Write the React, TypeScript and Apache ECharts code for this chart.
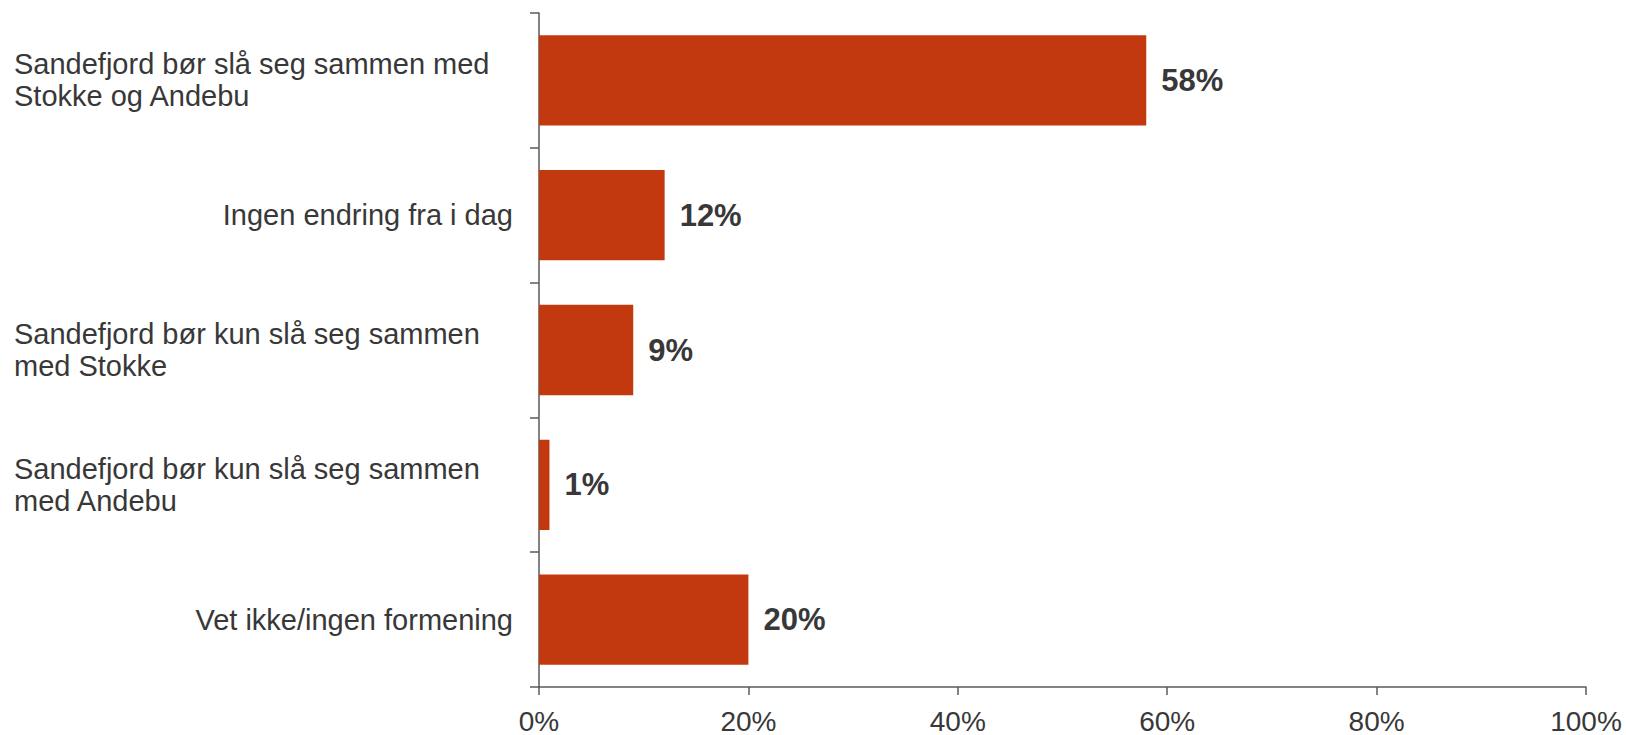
import React, { useEffect, useRef } from "react";
import * as echarts from "echarts";

const categories: string[][] = [
  ["Sandefjord bør slå seg sammen med", "Stokke og Andebu"],
  ["Ingen endring fra i dag"],
  ["Sandefjord bør kun slå seg sammen", "med Stokke"],
  ["Sandefjord bør kun slå seg sammen", "med Andebu"],
  ["Vet ikke/ingen formening"],
];
const values: number[] = [58, 12, 9, 1, 20];
const xTicks = { min: 0, max: 100, interval: 20 };

const FONT = "'Liberation Sans', Arial, sans-serif";
const TEXT = "#383838";
const AXIS = "#5a5a5a";
const BAR = "#C3390F";

export default function App() {
  const ref = useRef<HTMLDivElement>(null);
  useEffect(() => {
    document.body.style.margin = "0";
    if (!ref.current) return;
    const chart = echarts.init(ref.current, undefined, { renderer: "svg" });
    const catKeys = categories.map((c) => c.join("\n"));
    chart.setOption({
      animation: false,
      backgroundColor: "#ffffff",
      grid: { left: 539, right: 40, top: 13, bottom: 48, containLabel: false },
      xAxis: {
        type: "value",
        min: xTicks.min,
        max: xTicks.max,
        interval: xTicks.interval,
        axisLine: { show: true, lineStyle: { color: AXIS, width: 1.5 } },
        axisTick: { show: true, length: 8, lineStyle: { color: AXIS, width: 1.5 } },
        splitLine: { show: false },
        axisLabel: {
          formatter: "{value}%",
          fontSize: 28,
          fontFamily: FONT,
          color: TEXT,
          margin: 20,
        },
      },
      yAxis: {
        type: "category",
        inverse: true,
        data: catKeys,
        axisLine: { show: true, lineStyle: { color: AXIS, width: 1.5 } },
        axisTick: { show: true, length: 9, lineStyle: { color: AXIS, width: 1.5 } },
        axisLabel: {
          margin: 26,
          width: 499,
          overflow: "none",
          align: "right",
          fontSize: 29,
          fontFamily: FONT,
          color: TEXT,
          lineHeight: 32,
          formatter: (v: string) => {
            const lines = v.split("\n");
            if (lines.length > 1) return lines.map((l) => `{a|${l}}`).join("\n");
            return `{b|${v}}`;
          },
          rich: {
            a: { align: "left", fontSize: 29, fontFamily: FONT, color: TEXT, lineHeight: 32 },
            b: { align: "right", fontSize: 29, fontFamily: FONT, color: TEXT, lineHeight: 32 },
          },
        },
      },
      series: [
        {
          type: "bar",
          data: values,
          barCategoryGap: "33%",
          itemStyle: { color: BAR },
          label: {
            show: true,
            position: "right",
            distance: 15,
            formatter: "{c}%",
            fontSize: 31,
            fontWeight: "bold",
            fontFamily: FONT,
            color: TEXT,
          },
        },
      ],
    });
    return () => chart.dispose();
  }, []);
  return <div ref={ref} style={{ width: 1626, height: 735 }} />;
}
